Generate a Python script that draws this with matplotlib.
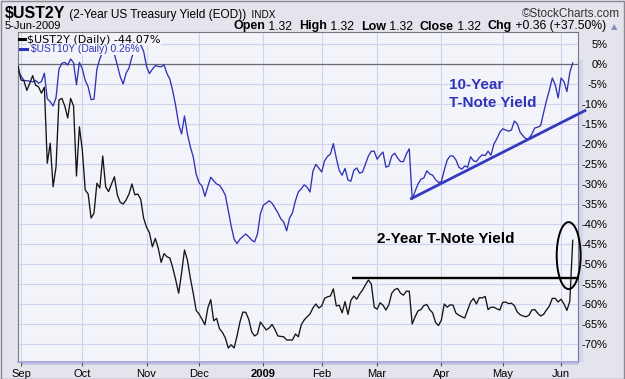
import numpy as np
import pandas as pd
import matplotlib
matplotlib.use('Agg')
import matplotlib.pyplot as plt
from matplotlib.patches import Ellipse, Rectangle
from matplotlib.lines import Line2D

# ---------------- data (percent change since start) ----------------
ust2y = [-0.5, -4, -4.2, -6.6, -4.8, -2.9, -5.3, -5.7, -7.3, -5.8,
         -24.8, -19.8, -30.7, -25.7, -9, -8.6, -10.5, -13.5, -8.6, -10.5,
         -28, -15.7, -21.5, -31.5, -32.5, -38.5, -37.3, -29.8, -31, -23,
         -30.7, -31.9, -30, -28.2, -32.75, -34.6, -35, -34, -32.5, -30,
         -32.7, -32.5, -33.8, -38.5, -40.8, -42.2, -45.7, -43.6, -46, -49.6,
         -47.4, -48.2, -48.5, -51, -54, -57.3, -52.3, -46.5, -49, -53.5,
         -57.3, -61.6, -62.5, -63.8, -65.2, -61, -58.9, -64.2, -63.6, -66.2,
         -67.1, -68.5, -71, -70.2, -71, -68, -64.5, -62, -62.1, -63.8,
         -66.9, -68, -67.5, -64.5, -65.5, -66.5, -66, -65.1, -66.4, -68,
         -68.1, -68.2, -69, -69, -69, -67.5, -68.2, -65.2, -64, -63.2,
         -62.5, -61, -60, -61, -60.5, -58.6, -58.2, -58, -56.2, -60.5,
         -60.3, -62.2, -59.4, -62.6, -59.1, -58, -58.8, -57.5, -56.5, -55.2,
         -54, -55, -60.8, -61.3, -59.7, -60.3, -61.5, -60.2, -57.3, -56.4,
         -56.1, -57.3, -57.8, -56.8, -56.8, -65, -63.2, -61.7, -61.4, -60.4,
         -60.1, -61.4, -62.2, -64.6, -65.4, -64, -60, -60.8, -60.2, -60.3,
         -62.3, -62.8, -63.2, -63.5, -61.5, -59.5, -58.6, -60, -58.4, -58.5,
         -58.1, -61.4, -60.8, -60.8, -61.2, -61.5, -59.6, -59.5, -59.9, -59.8,
         -60.4, -62, -62.7, -63, -63.2, -62.8, -61.5, -61.4, -62.3, -63,
         -62.6, -61.5, -60.5, -58.6, -58.6, -59.5, -58.8, -60, -61.6, -59.3,
         -44.07]

ust10y = [-1.9, -3.0, -4.1, -4.2, -4.3, -4.5, -4.1, -4.8, -4.4, -2.3,
          -8.7, -9.4, -10.5, -8.4, -1.3, 0.2, 0.4, -0.25, 1.25, 0.3,
          -5.2, 0.4, -1.2, -4.1, -5.7, -8.9, -8.8, -1.3, 1.3, 3.0,
          4.2, 4.6, 3.8, 2.4, -0.3, -3.2, -5.0, -2.3, -1.0, 1.8,
          3.5, 4.5, 4.75, 3.2, -0.6, -2.4, -1.3, -0.4, -0.6, -0.7,
          -0.2, -2.4, -3.8, -6.8, -10.5, -15, -17.5, -13, -17.5, -20.7,
          -23.2, -27.5, -29.7, -30.5, -33.1, -30.6, -28.3, -29.2, -30, -30.3,
          -31.4, -32.8, -36.7, -40.5, -43.8, -44.9, -43.8, -43.1, -42.5, -43.2,
          -44, -44.5, -42.5, -37.5, -35.3, -34.8, -34.2, -34.8, -36, -37.2,
          -38.7, -39.5, -41.7, -38.5, -37.2, -34.2, -32, -31.2, -30.2, -30.8,
          -32, -26.8, -25.1, -26, -27, -24.2, -23.1, -22.5, -19.9, -23.5,
          -26.6, -27.8, -26.1, -29, -29.3, -26.6, -26, -27.3, -27, -25,
          -23, -21.8, -21.8, -23.8, -22.8, -22, -25.8, -25.5, -23, -22.3,
          -23.5, -24.4, -24.4, -22.5, -21.2, -33.8, -31.8, -30, -28.8, -28.5,
          -26.7, -27.5, -27.8, -28.9, -29.6, -29.4, -26.5, -24, -23, -23,
          -24, -25.8, -26.3, -25.5, -25.8, -23.2, -24.2, -24.4, -23.4, -22.7,
          -22.9, -21.8, -22.8, -20, -18.7, -17.1, -16.2, -16.5, -16.8, -16.5,
          -14.25, -15, -17.1, -18, -18.75, -18.6, -17.5, -16, -15.8, -15.4,
          -12.2, -9.2, -6.5, -3.5, -5.2, -8.5, -3.5, -4.4, -6.9, -2.1,
          0.26]

bond_holidays = ['2008-09-01', '2008-10-13', '2008-11-11', '2008-11-27', '2008-12-25',
                 '2009-01-01', '2009-01-19', '2009-02-16', '2009-04-10', '2009-05-25']
month_labels = ['Sep', 'Oct', 'Nov', 'Dec', '2009', 'Feb', 'Mar', 'Apr', 'May', 'Jun']
ytick_values = list(range(5, -75, -5))

# annotation data (trading-day index, percent)
trend10_x = [134.3, 194.6]
trend10_y = [-33.8, -11.5]
level2_x = [114.3, 192.2]
level2_y = [-53.4, -53.4]
ellipse_center = (188.6, -47.9)
ellipse_size = (8.2, 16.75)

# ---------------- calendar ----------------
dates = pd.bdate_range('2008-08-29', '2009-06-05')
dates = dates[~dates.isin(pd.to_datetime(bond_holidays))]
n = min(len(dates), len(ust2y), len(ust10y))
dates = dates[:n]
xs = np.arange(n)
month_pos = [i for i in range(1, n) if dates[i].month != dates[i - 1].month]
month_pos = month_pos[:len(month_labels)]

# ---------------- figure ----------------
W, H = 625, 379
FONT = ['Liberation Sans', 'DejaVu Sans']
plt.rcParams['font.family'] = FONT

fig = plt.figure(figsize=(W / 100, H / 100), dpi=100, facecolor='#E4E5EC')

def fx(px):
    return px / W

def fy(py):
    return 1 - py / H

plot_bg = '#F3F4FA'
grid_c = '#CFD2EC'
ax = fig.add_axes([fx(18), fy(362), (578 - 18) / W, (362 - 32) / H])
ax.set_facecolor(plot_bg)
ax.set_xlim(-0.03, 191.8)
ax.set_ylim(-74.5, 8)

for v in ytick_values:
    ax.axhline(v, color=grid_c, lw=0.8, zorder=1)
for p in month_pos:
    ax.axvline(p, color=grid_c, lw=0.8, zorder=1)
ax.axhline(0, color='#6a6a72', lw=0.9, zorder=2)

ax.plot(xs, ust10y[:n], color='#2F33B4', lw=0.95, zorder=3)
ax.plot(xs, ust2y[:n], color='#151515', lw=0.95, zorder=4)

# annotations
ax.plot(trend10_x, trend10_y, color='#3538C0', lw=2.0, solid_capstyle='butt',
        clip_on=False, zorder=5)
ax.plot(level2_x, level2_y, color='#000000', lw=1.7, solid_capstyle='butt',
        clip_on=False, zorder=5)
ax.add_patch(Ellipse(ellipse_center, ellipse_size[0], ellipse_size[1], fill=False,
                     edgecolor='#000000', lw=1.4, clip_on=False, zorder=6))

# y ticks on right
ax.yaxis.tick_right()
ax.set_yticks(ytick_values)
ax.set_yticklabels([f'{v}%' for v in ytick_values], fontsize=8)
for lab in ax.get_yticklabels():
    lab.set_horizontalalignment('right')
ax.tick_params(axis='y', length=0, pad=21)

ax.set_xticks(month_pos)
ax.set_xticklabels(month_labels, fontsize=8)
for lab in ax.get_xticklabels():
    if lab.get_text() == '2009':
        lab.set_fontweight('bold')
ax.tick_params(axis='x', length=3, width=0.8, color='#555555', pad=2)

for s in ['left', 'top', 'right']:
    ax.spines[s].set_color('#77777f')
    ax.spines[s].set_linewidth(0.8)
ax.spines['bottom'].set_color('#9ea3d2')
ax.spines['bottom'].set_linewidth(1.2)

# lavender strips around the plot
fig.add_artist(Rectangle((fx(22), fy(365)), (578 - 22) / W, 3 / H, transform=fig.transFigure,
                         facecolor='#C3C6E6', edgecolor='none', zorder=0))
fig.add_artist(Rectangle((fx(578), fy(362)), 5 / W, (362 - 60) / H, transform=fig.transFigure,
                         facecolor='#D3D6EE', edgecolor='none', zorder=0))

# chart annotation text
fig.text(fx(449), fy(89), '10-Year', fontsize=11, fontweight='bold', color='#3034B8',
         ha='left', va='baseline')
fig.text(fx(449), fy(107), 'T-Note Yield', fontsize=11, fontweight='bold', color='#3034B8',
         ha='left', va='baseline')
fig.text(fx(377), fy(243), '2-Year T-Note Yield', fontsize=11, fontweight='bold',
         color='#000000', ha='left', va='baseline')

# legend
fig.text(fx(27), fy(43), '$UST2Y (Daily) -44.07%', fontsize=8, color='#000000',
         family=['DejaVu Sans'], ha='left', va='baseline',
         bbox=dict(facecolor=plot_bg, edgecolor='none', pad=0))
fig.text(fx(31), fy(52.5), '$UST10Y (Daily) 0.26%', fontsize=7.4, color='#3034B8',
         ha='left', va='baseline',
         bbox=dict(facecolor=plot_bg, edgecolor='none', pad=0))
fig.add_artist(Line2D([fx(19), fx(25)], [fy(39), fy(39)], transform=fig.transFigure,
                      color='#000000', lw=2.2))
fig.add_artist(Line2D([fx(20), fx(27)], [fy(49), fy(49)], transform=fig.transFigure,
                      color='#3034B8', lw=2.2))

# header
fig.canvas.draw()
renderer = fig.canvas.get_renderer()

def place_row(pieces, y, x_start=None, x_end=None):
    texts, widths = [], []
    for s, kw in pieces:
        t = fig.text(0, fy(y), s, ha='left', va='baseline', **kw)
        texts.append(t)
        widths.append(t.get_window_extent(renderer).width)
    total = sum(widths)
    x = x_start if x_start is not None else x_end - total
    for t, w in zip(texts, widths):
        t.set_x(fx(x))
        x += w
    return x

place_row([('$UST2Y', dict(fontsize=11.5, fontweight='bold')),
           (' (2-Year US Treasury Yield (EOD))', dict(fontsize=8.6)),
           ('  INDX', dict(fontsize=7.2))], y=18, x_start=5)
fig.text(fx(620), fy(17), '\u00a9StockCharts.com', fontsize=8.5, color='#333333',
         ha='right', va='baseline')
fig.text(fx(5), fy(29), '5-Jun-2009', fontsize=8, ha='left', va='baseline')

B = dict(fontsize=9, fontweight='bold')
N = dict(fontsize=8.7)
row = [('Open', B), (' 1.32  ', N), ('High', B), (' 1.32  ', N), ('Low', B), (' 1.32  ', N),
       ('Close', B), (' 1.32  ', N), ('Chg', B), (' +0.36 (+37.50%) ', N)]
place_row(row, y=29.5, x_end=609)
fig.text(fx(611), fy(29), '\u25b2', fontsize=6, color='#8A90B8', family=['DejaVu Sans'],
         ha='left', va='baseline')

# outer border
fig.add_artist(Rectangle((0.5 / W, 0.5 / H), (W - 1.5) / W, (H - 1.5) / H, transform=fig.transFigure,
                         fill=False, edgecolor='#8a8a92', lw=1.0))

fig.savefig('out.png', dpi=100, facecolor=fig.get_facecolor())
